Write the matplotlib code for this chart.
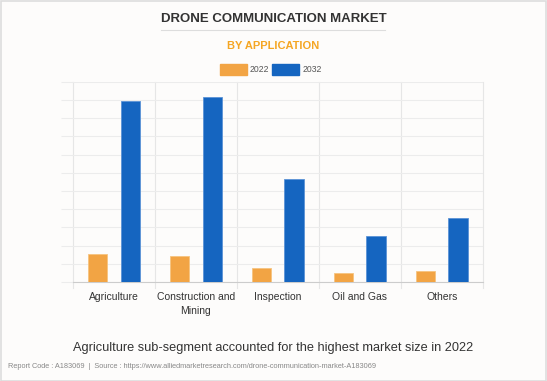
import numpy as np
import matplotlib.pyplot as plt
from matplotlib.patches import Rectangle
from matplotlib.lines import Line2D

plt.rcParams['font.family'] = ['Liberation Sans', 'DejaVu Sans']

categories = ['Agriculture', 'Construction and\nMining', 'Inspection', 'Oil and Gas', 'Others']
years = ['2022', '2032']
values_2022 = [1.53, 1.45, 0.77, 0.49, 0.60]
values_2032 = [9.96, 10.18, 5.68, 2.54, 3.53]

orange = '#f2a444'
blue = '#1565c0'

fig = plt.figure(figsize=(5.47, 3.81), dpi=100)
fig.patch.set_facecolor('#fdfcfb')
fig.add_artist(Rectangle((0.001, 0.001), 0.997, 0.996, transform=fig.transFigure,
                         fill=False, edgecolor='#dddddd', linewidth=1.2))

ax = fig.add_axes([0.1335, 0.26, 0.749, 0.525])
ax.set_facecolor('#fdfcfb')

x = np.arange(len(categories))
w = 0.235
off = 0.198
ax.bar(x - off, values_2022, w, color=orange, edgecolor='#f6c47f', linewidth=0.6, zorder=3)
ax.bar(x + off, values_2032, w, color=blue, edgecolor='#5b93d6', linewidth=0.6, zorder=3)

ax.set_xlim(-0.5, len(categories) - 0.5)
ax.set_ylim(0, 11)
ax.set_yticks(np.arange(0, 12, 1))
ax.set_yticklabels([])
ax.tick_params(axis='y', length=9, color='#ececec', width=0.8)
ax.grid(axis='y', color='#ececec', linewidth=0.8, zorder=0)

ax.set_xticks(x)
ax.set_xticklabels(categories, fontsize=7.5, color='#333333', linespacing=1.6)
ax.tick_params(axis='x', length=0, pad=7)
for b in np.arange(-0.5, len(categories), 1):
    ax.add_line(Line2D([b, b], [-0.35, 11], color='#e6e6e6', linewidth=0.8,
                       zorder=0, clip_on=False))

for s in ['top', 'right', 'left']:
    ax.spines[s].set_visible(False)
ax.spines['bottom'].set_color('#cccccc')

fig.text(0.5, 0.95, 'DRONE COMMUNICATION MARKET', ha='center', va='center',
         fontsize=9.5, fontweight='bold', color='#333333')
fig.add_artist(Line2D([0.294, 0.704], [0.921, 0.921], color='#dddddd', linewidth=0.8))
fig.text(0.5, 0.88, 'BY APPLICATION', ha='center', va='center',
         fontsize=8, fontweight='bold', color='#f5a623')

# legend
fig.add_artist(Rectangle((220 / 547, 1 - 75 / 381), 27 / 547, 11 / 381,
                         transform=fig.transFigure, color=orange))
fig.text(250 / 547, 1 - 69 / 381, years[0], fontsize=6.2, color='#555555', va='center')
fig.add_artist(Rectangle((272 / 547, 1 - 75 / 381), 27 / 547, 11 / 381,
                         transform=fig.transFigure, color=blue))
fig.text(303 / 547, 1 - 69 / 381, years[1], fontsize=6.2, color='#555555', va='center')

fig.text(0.5, 1 - 348 / 381, 'Agriculture sub-segment accounted for the highest market size in 2022',
         ha='center', va='center', fontsize=9.2, color='#333333')
fig.text(8 / 547, 1 - 366 / 381,
         'Report Code : A183069  |  Source : https://www.alliedmarketresearch.com/drone-communication-market-A183069',
         ha='left', va='center', fontsize=5.35, color='#888888')

fig.savefig('out.png', dpi=100, facecolor=fig.get_facecolor())
